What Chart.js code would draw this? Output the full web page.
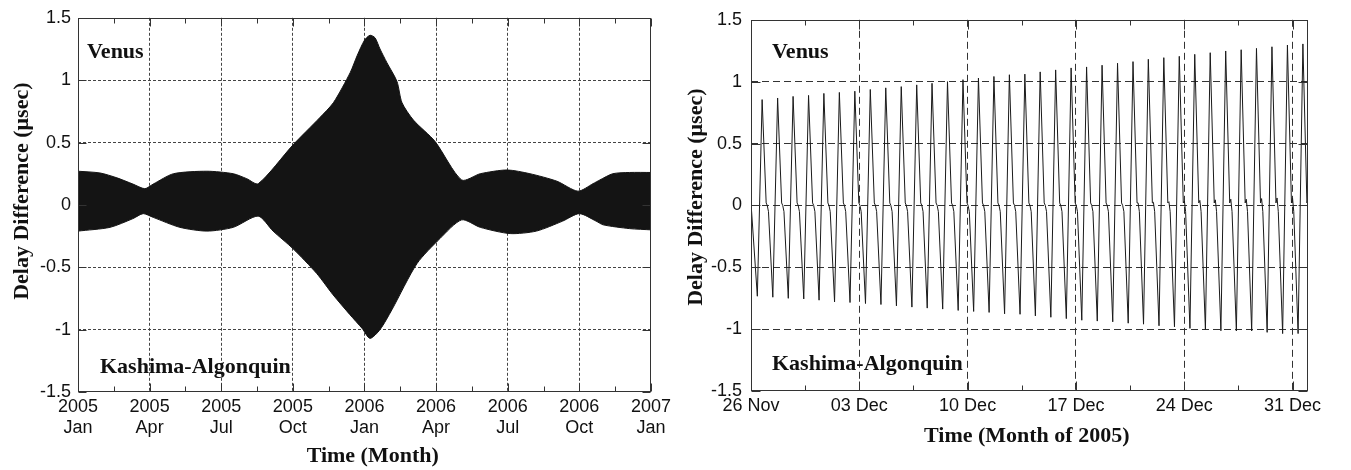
<!DOCTYPE html>
<html><head><meta charset="utf-8">
<script src="https://cdn.jsdelivr.net/npm/chart.js@4.4.1/dist/chart.umd.min.js"></script>
<style>
html,body{margin:0;padding:0;background:#fff;}
#wrap{position:relative;width:1351px;height:470px;background:#fff;}
canvas{position:absolute;top:0;}
#c1{left:0;width:675px;height:470px;}
#c2{left:675px;width:676px;height:470px;}
</style></head><body>
<div id="wrap"><canvas id="c1" width="675" height="470"></canvas><canvas id="c2" width="676" height="470"></canvas></div>
<script>
// ---------- Left chart data (months since Jan 2005) ----------
const leftUpperMonths = [0, 0.92, 1.63, 2.3, 2.8, 3.15, 4.0, 5.4, 6.5, 7.07, 7.55, 9.0, 10.13, 10.7, 11.4, 11.7, 12.0, 12.23, 12.44, 12.65, 12.94, 13.36, 13.57, 14.05, 14.95, 16.07, 16.85, 17.97, 18.93, 20.06, 20.94, 21.57, 21.86, 22.4, 23.1, 24];
const leftUpperVals   = [0.27, 0.256, 0.217, 0.167, 0.13, 0.167, 0.25, 0.27, 0.25, 0.21, 0.17, 0.48, 0.70, 0.82, 1.06, 1.2, 1.32, 1.36, 1.34, 1.25, 1.14, 0.99, 0.82, 0.68, 0.51, 0.2, 0.25, 0.28, 0.25, 0.19, 0.11, 0.17, 0.2, 0.25, 0.26, 0.26];
const leftLowerMonths = [0, 1.34, 2.3, 2.73, 3.15, 4.27, 5.4, 6.5, 7.55, 8.17, 9.0, 10.0, 10.68, 11.39, 11.9, 12.23, 12.65, 13.15, 14.2, 15.16, 16.07, 16.85, 18.1, 19.2, 20.3, 21.0, 21.7, 22.0, 23.1, 24];
const leftLowerVals   = [-0.21, -0.18, -0.11, -0.07, -0.10, -0.18, -0.21, -0.18, -0.09, -0.21, -0.35, -0.55, -0.72, -0.88, -0.99, -1.07, -1.0, -0.84, -0.47, -0.27, -0.12, -0.18, -0.23, -0.21, -0.13, -0.07, -0.13, -0.16, -0.19, -0.2];
const leftXTickMonths = [0, 3, 6, 9, 12, 15, 18, 21, 24];
const leftXLabels = [['2005','Jan'],['2005','Apr'],['2005','Jul'],['2005','Oct'],['2006','Jan'],['2006','Apr'],['2006','Jul'],['2006','Oct'],['2007','Jan']];

// ---------- Right chart data (days since 26 Nov 2005) ----------
const rightStartDay = 0;
const rightStartVal = 0.02;
const rightTroughDays = [0.41,1.41,2.41,3.41,4.40,5.40,6.40,7.40,8.40,9.40,10.40,11.39,12.39,13.39,14.39,15.39,16.39,17.39,18.38,19.38,20.38,21.38,22.38,23.38,24.38,25.37,26.37,27.37,28.37,29.37,30.37,31.37,32.36,33.36,34.36,35.36];
const rightTroughVals = [-0.734,-0.742,-0.751,-0.756,-0.766,-0.780,-0.785,-0.793,-0.801,-0.812,-0.822,-0.830,-0.838,-0.849,-0.857,-0.865,-0.876,-0.880,-0.893,-0.904,-0.915,-0.928,-0.935,-0.941,-0.952,-0.960,-0.973,-0.981,-0.994,-1.002,-1.013,-1.015,-1.015,-1.026,-1.036,-1.036];
const rightPeakVals   = [0.855,0.868,0.881,0.889,0.905,0.913,0.923,0.937,0.950,0.960,0.974,0.987,1.000,1.016,1.029,1.042,1.056,1.061,1.079,1.095,1.111,1.119,1.133,1.149,1.162,1.181,1.194,1.205,1.221,1.234,1.248,1.258,1.269,1.282,1.296,1.305];
const rightKinkVals   = [0,0,0,0,0,0,0,0,0,0,0,0,0,0,0,0,0,0,0,0,0,0,0,0,0.02,0.025,0.03,0.035,0.04,0.045,0.05,0.05,0.055,0.06,0.06,0.065];
const rightShoulderHi = 0.02;
const rightShoulderLo = -0.05;
// offsets (days) after each trough: peak, shoulder start, kink, shoulder end
const cycleOffsets = [0.31, 0.57, 0.64, 0.72];
const rightXTickDays = [0, 7, 14, 21, 28, 35];
const rightXLabels = ['26 Nov','03 Dec','10 Dec','17 Dec','24 Dec','31 Dec'];

// ---------- shared ----------
const yTickValues = [-1.5,-1,-0.5,0,0.5,1,1.5];
const yTickLabels = ['-1.5','-1','-0.5','0','0.5','1','1.5'];
const yTitle = 'Delay Difference (\u03BCsec)';
const NB = '\u00A0';

const SERIF = '"Liberation Serif", "Times New Roman", serif';
const SANS = '"Liberation Sans", Arial, sans-serif';
const near = (a, b) => Math.abs(a - b) < 1e-6;
const idxOf = (arr, v) => arr.findIndex(t => near(t, v));

function makeDecor(cfg) {
  return {
    id: 'decor',
    afterDatasetsDraw(chart) {
      const {ctx, chartArea: a} = chart;
      const xs = chart.scales.x, ys = chart.scales.y;
      ctx.save();
      ctx.strokeStyle = cfg.frameColor; ctx.lineWidth = 1; ctx.setLineDash([]);
      const L = Math.round(a.left) + 0.5, R = Math.round(a.right) - 0.5;
      const T = Math.round(a.top) + 0.5, B = Math.round(a.bottom) - 0.5;
      ctx.strokeRect(L, T, R - L, B - T);
      ctx.beginPath();
      xs.ticks.forEach(t => {
        const len = idxOf(cfg.xMajor, t.value) >= 0 ? cfg.majorLen : cfg.minorLen;
        const p = Math.round(xs.getPixelForValue(t.value)) + 0.5;
        ctx.moveTo(p, B); ctx.lineTo(p, B - len);
        ctx.moveTo(p, T); ctx.lineTo(p, T + len);
      });
      ys.ticks.forEach(t => {
        const p = Math.round(ys.getPixelForValue(t.value)) + 0.5;
        ctx.moveTo(L, p); ctx.lineTo(L + cfg.majorLen, p);
        ctx.moveTo(R, p); ctx.lineTo(R - cfg.majorLen, p);
      });
      ctx.stroke();
      ctx.fillStyle = '#111';
      ctx.font = 'bold 22px ' + SERIF;
      ctx.textBaseline = 'middle'; ctx.textAlign = 'left';
      cfg.notes.forEach(n => ctx.fillText(n.text, a.left + n.dx, a.top + n.dy));
      ctx.restore();
    }
  };
}

function yAxis(width, pad, titlePad, dash, gridColor, titleText) {
  return {
    type: 'linear', min: -1.5, max: 1.5,
    afterFit: s => { s.width = width; },
    ticks: { stepSize: 0.5, padding: pad, color: '#111', font: { family: SANS, size: 18 },
      callback: v => { const i = idxOf(yTickValues, v); return i >= 0 ? yTickLabels[i] : ''; } },
    grid: { drawTicks: false, lineWidth: 1, borderDash: dash,
      color: c => (c.tick && (near(c.tick.value, 1.5) || near(c.tick.value, -1.5))) ? 'rgba(0,0,0,0)' : gridColor },
    border: { display: false, dash: dash },
    title: { display: true, text: titleText, color: '#111', font: { family: SERIF, size: 22, weight: 'bold' }, padding: { top: titlePad, bottom: 0 } }
  };
}

// ---------- Left chart ----------
new Chart(document.getElementById('c1'), {
  type: 'line',
  data: {
    datasets: [
      { data: leftUpperMonths.map((m, i) => ({ x: m, y: leftUpperVals[i] })), borderColor: '#141414', backgroundColor: '#141414', borderWidth: 1, pointRadius: 0, fill: 'origin', tension: 0.25 },
      { data: leftLowerMonths.map((m, i) => ({ x: m, y: leftLowerVals[i] })), borderColor: '#141414', backgroundColor: '#141414', borderWidth: 1, pointRadius: 0, fill: 'origin', tension: 0.25 }
    ]
  },
  options: {
    responsive: false, animation: false, devicePixelRatio: 1,
    layout: { padding: { left: 0, top: 15, right: 24, bottom: 0 } },
    plugins: { legend: { display: false }, tooltip: { enabled: false } },
    scales: {
      x: {
        type: 'linear', min: 0, max: 24,
        afterFit: s => { s.height = 78; },
        ticks: { stepSize: 1.5, autoSkip: false, maxRotation: 0, padding: 4, color: '#111', font: { family: SANS, size: 18 },
          callback: v => { const i = idxOf(leftXTickMonths, v); return i >= 0 ? leftXLabels[i] : ''; } },
        grid: { drawTicks: false, lineWidth: 1, borderDash: [3, 2],
          color: c => { if (!c.tick) return 'rgba(0,0,0,0)'; const v = c.tick.value; const i = idxOf(leftXTickMonths, v); return (i > 0 && i < leftXTickMonths.length - 1) ? '#444' : 'rgba(0,0,0,0)'; } },
        border: { display: false, dash: [3, 2] },
        title: { display: true, text: NB + NB + NB + 'Time (Month)', color: '#111', font: { family: SERIF, size: 22, weight: 'bold' }, padding: { top: 0, bottom: 0 } }
      },
      y: yAxis(78, 7, 9, [3, 2], '#444', NB + NB + NB + NB + NB + yTitle)
    }
  },
  plugins: [makeDecor({ frameColor: '#333', majorLen: 8, minorLen: 5, xMajor: leftXTickMonths,
    notes: [{ text: 'Venus', dx: 9, dy: 35 }, { text: 'Kashima-Algonquin', dx: 22, dy: 350 }] })]
});

// ---------- Right chart ----------
const rightPoints = [{ x: rightStartDay, y: rightStartVal }];
rightTroughDays.forEach((t, i) => {
  rightPoints.push({ x: t, y: rightTroughVals[i] });
  rightPoints.push({ x: t + cycleOffsets[0], y: rightPeakVals[i] });
  rightPoints.push({ x: t + cycleOffsets[1], y: rightShoulderHi });
  rightPoints.push({ x: t + cycleOffsets[2], y: rightKinkVals[i] });
  rightPoints.push({ x: t + cycleOffsets[3], y: rightShoulderLo });
});

new Chart(document.getElementById('c2'), {
  type: 'line',
  data: { datasets: [{ data: rightPoints, borderColor: '#1a1a1a', borderWidth: 1, pointRadius: 0, fill: false, tension: 0 }] },
  options: {
    responsive: false, animation: false, devicePixelRatio: 1,
    layout: { padding: { left: 0, top: 13, right: 43, bottom: 0 } },
    plugins: { legend: { display: false }, tooltip: { enabled: false } },
    scales: {
      x: {
        type: 'linear', min: 0, max: 36,
        afterFit: s => { s.height = 79; },
        ticks: { stepSize: 3.5, includeBounds: false, autoSkip: false, maxRotation: 0, padding: 4, color: '#111', font: { family: SANS, size: 18 },
          callback: v => { const i = idxOf(rightXTickDays, v); return i >= 0 ? rightXLabels[i] : ''; } },
        grid: { drawTicks: false, lineWidth: 1, borderDash: [7, 4],
          color: c => { if (!c.tick) return 'rgba(0,0,0,0)'; const i = idxOf(rightXTickDays, c.tick.value); return i > 0 ? '#333' : 'rgba(0,0,0,0)'; } },
        border: { display: false, dash: [7, 4] },
        title: { display: true, text: 'Time (Month of 2005)' + NB, color: '#111', font: { family: SERIF, size: 22, weight: 'bold' }, padding: { top: 0, bottom: 20 } }
      },
      y: yAxis(76, 9, 8, [7, 4], '#333', NB + NB + NB + yTitle)
    }
  },
  plugins: [makeDecor({ frameColor: '#333', majorLen: 9, minorLen: 5, xMajor: rightXTickDays,
    notes: [{ text: 'Venus', dx: 21, dy: 33 }, { text: 'Kashima-Algonquin', dx: 21, dy: 345 }] })]
});
</script>
</body></html>
